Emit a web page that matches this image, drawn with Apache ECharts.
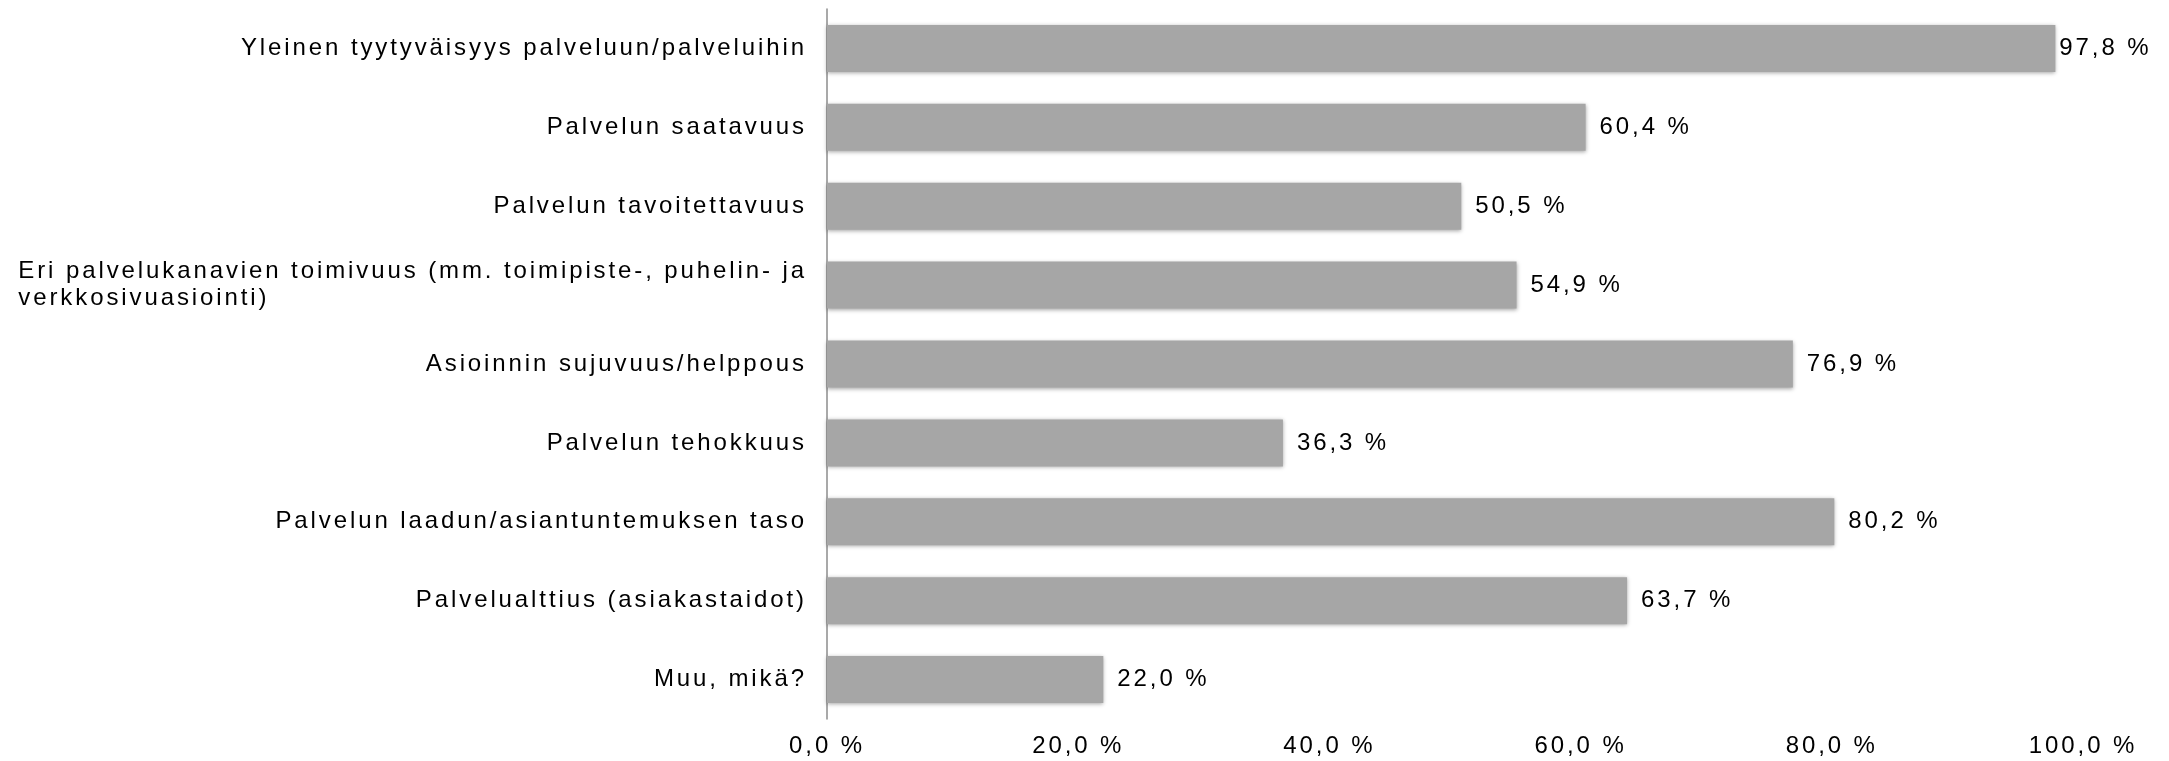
<!DOCTYPE html>
<html>
<head>
<meta charset="utf-8">
<script src="https://cdn.jsdelivr.net/npm/echarts@6/dist/echarts.min.js"></script>
<style>
  html, body { margin: 0; padding: 0; background: #ffffff; }
  #chart { width: 2169px; height: 761px; }
</style>
</head>
<body>
<div id="chart"></div>
<script>
// ---- data ----
const categories = [
  'Yleinen tyytyväisyys palveluun/palveluihin',
  'Palvelun saatavuus',
  'Palvelun tavoitettavuus',
  'Eri palvelukanavien toimivuus (mm. toimipiste-, puhelin- ja\nverkkosivuasiointi)',
  'Asioinnin sujuvuus/helppous',
  'Palvelun tehokkuus',
  'Palvelun laadun/asiantuntemuksen taso',
  'Palvelualttius (asiakastaidot)',
  'Muu, mikä?'
];
const values = [97.8, 60.4, 50.5, 54.9, 76.9, 36.3, 80.2, 63.7, 22.0];
const xTicks = [0, 20, 40, 60, 80, 100];

// letter spacing used by the original typography
(function () {
  const LS = '2.9px';
  const proto = CanvasRenderingContext2D.prototype;
  const of = proto.fillText, om = proto.measureText;
  proto.fillText = function () { try { this.letterSpacing = LS; } catch (e) {} return of.apply(this, arguments); };
  proto.measureText = function () { try { this.letterSpacing = LS; } catch (e) {} return om.apply(this, arguments); };
})();

const FONT = '"Liberation Sans", Arial, Helvetica, sans-serif';
const FS = 24;
const fmt = v => v.toFixed(1).replace('.', ',') + ' %';

const chart = echarts.init(document.getElementById('chart'), null, { renderer: 'canvas' });

const seriesData = values.map((v, i) => {
  const item = { value: v };
  if (i === 0) item.label = { distance: 4 };
  return item;
});

chart.setOption({
  animation: false,
  backgroundColor: '#ffffff',
  grid: { left: 827, right: 86, top: 9, bottom: 42, containLabel: false },
  xAxis: {
    type: 'value',
    min: xTicks[0],
    max: xTicks[xTicks.length - 1],
    interval: xTicks[1] - xTicks[0],
    axisLine: { show: false },
    axisTick: { show: false },
    splitLine: { show: false },
    axisLabel: {
      margin: 14,
      color: '#000000',
      fontFamily: FONT,
      fontSize: FS,
      formatter: v => fmt(v)
    }
  },
  yAxis: {
    type: 'category',
    inverse: true,
    data: categories,
    axisLine: { show: true, lineStyle: { color: '#8c8c8c', width: 1.5 } },
    axisTick: { show: false },
    splitLine: { show: false },
    axisLabel: {
      margin: 20,
      align: 'right',
      color: '#000000',
      fontFamily: FONT,
      fontSize: FS,
      lineHeight: 27,
      formatter: v => v.split('\n').map(l => '{l|' + l + '}').join('\n'),
      rich: {
        l: { align: 'left', color: '#000000', fontFamily: FONT, fontSize: FS, lineHeight: 27 }
      }
    }
  },
  series: [{
    type: 'bar',
    data: seriesData,
    barWidth: 47,
    itemStyle: {
      color: '#a6a6a6',
      shadowBlur: 4,
      shadowColor: 'rgba(0,0,0,0.35)',
      shadowOffsetX: 0,
      shadowOffsetY: 1
    },
    label: {
      show: true,
      position: 'right',
      distance: 14,
      color: '#000000',
      fontFamily: FONT,
      fontSize: FS,
      formatter: p => fmt(p.value)
    }
  }]
});
</script>
</body>
</html>
